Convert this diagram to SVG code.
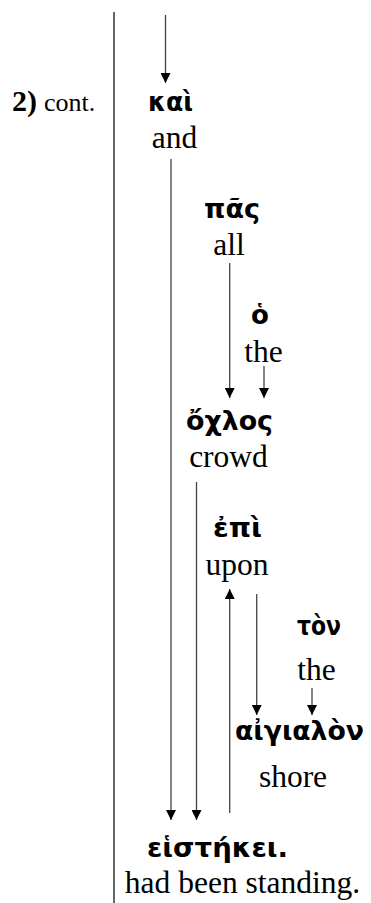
<svg xmlns="http://www.w3.org/2000/svg" width="371" height="903" viewBox="0 0 371 903">
<style>
.gk{font-family:"DejaVu Sans","Noto Sans",sans-serif;font-weight:bold;font-size:26px;fill:#000;text-anchor:middle}
.en{font-family:"Liberation Serif","Times New Roman",serif;font-size:31.5px;fill:#000;text-anchor:middle}
.lbl{font-family:"Liberation Serif","Times New Roman",serif;fill:#000}
.conn line{stroke:#444;stroke-width:1.3;fill:none}
.arr{marker-end:url(#ah)}
</style>
<defs>
<marker id="ah" markerUnits="userSpaceOnUse" markerWidth="10" markerHeight="10" refX="10" refY="5" orient="auto" viewBox="0 0 10 10">
<path d="M0,0 L10,5 L0,10 z" fill="#000"/>
</marker>
</defs>
<rect width="371" height="903" fill="#fff"/>
<line x1="114" y1="12" x2="114" y2="903" stroke="#000" stroke-width="1.2"/>
<g id="label"><text class="lbl" x="12" y="111"><tspan font-weight="bold" font-size="30">2)</tspan><tspan font-size="26" dx="7">cont.</tspan></text></g>
<g class="conn">
<line class="arr" x1="165.5" y1="15" x2="165.5" y2="83"/>
<line class="arr" x1="171" y1="159" x2="171" y2="820"/>
<line class="arr" x1="229.7" y1="263" x2="229.7" y2="398"/>
<line class="arr" x1="264" y1="366" x2="264" y2="398"/>
<line class="arr" x1="196.5" y1="482" x2="196.5" y2="820"/>
<line class="arr" x1="229.7" y1="813" x2="229.7" y2="589"/>
<line class="arr" x1="256.7" y1="594" x2="256.7" y2="715"/>
<line class="arr" x1="312" y1="688" x2="312" y2="715"/>
</g>
<g id="kai"><text class="gk" x="170.5" y="111" textLength="45" lengthAdjust="spacingAndGlyphs">καὶ</text><text class="en" x="174.5" y="148">and</text></g>
<g id="pas"><text class="gk" x="232" y="218" textLength="56" lengthAdjust="spacingAndGlyphs">πᾶς</text><text class="en" x="229" y="255">all</text></g>
<g id="ho"><text class="gk" x="260" y="324">ὁ</text><text class="en" x="263.5" y="362">the</text></g>
<g id="ochlos"><text class="gk" x="229.5" y="430" textLength="87" lengthAdjust="spacingAndGlyphs">ὄχλος</text><text class="en" x="228.5" y="467">crowd</text></g>
<g id="epi"><text class="gk" x="237.5" y="537" textLength="49" lengthAdjust="spacingAndGlyphs">ἐπὶ</text><text class="en" x="237" y="575">upon</text></g>
<g id="ton"><text class="gk" x="319" y="635" textLength="44" lengthAdjust="spacingAndGlyphs">τὸν</text><text class="en" x="316.5" y="680">the</text></g>
<g id="aigialon"><text class="gk" x="299.5" y="740" textLength="129" lengthAdjust="spacingAndGlyphs">αἰγιαλὸν</text><text class="en" x="293" y="787">shore</text></g>
<g id="eistekei"><text class="gk" x="217.5" y="857" textLength="141" lengthAdjust="spacingAndGlyphs">εἱστήκει.</text><text class="en" x="242.5" y="893">had been standing.</text></g>
</svg>
